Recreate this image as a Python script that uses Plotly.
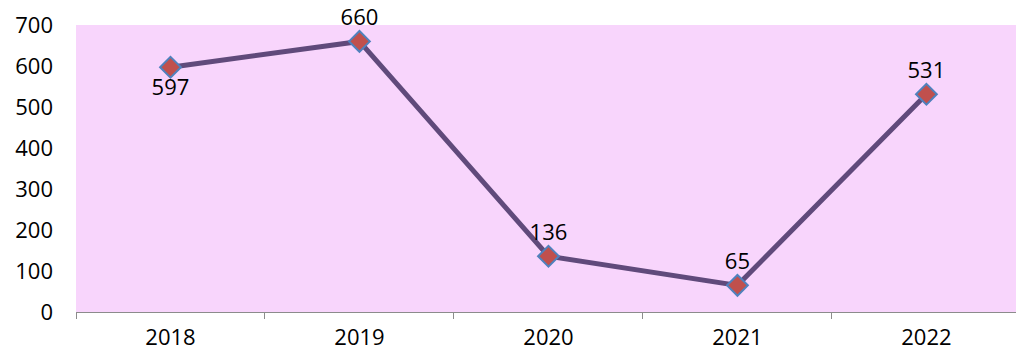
import plotly.graph_objects as go

years = ['2018', '2019', '2020', '2021', '2022']
values = [597, 660, 136, 65, 531]
label_pos = ['bottom center', 'top center', 'top center', 'top center', 'top center']

fig = go.Figure()
fig.add_trace(go.Scatter(
  x = years, y = values, mode = 'lines+markers+text',
  text = [str(v) for v in values], textposition = label_pos,
  textfont = dict(size = 22, color = '#000000'),
  line = dict(color = '#604A7B', width = 5),
  marker = dict(symbol = 'diamond', size = 16, color = '#C0504D', line = dict(color = '#4F81BD', width = 2)),
  cliponaxis = False, showlegend = False))

fig.update_layout(
  width = 1016, height = 360,
  margin = dict(l = 76, r = 0, t = 25, b = 48, autoexpand = False),
  paper_bgcolor = 'white', plot_bgcolor = '#F8D5FC',
  font = dict(family = 'Open Sans, Noto Sans, sans-serif', size = 22, color = '#000000'))
# last category boundary sits just past the right edge, as in the reference
fig.update_xaxes(type = 'category', range = [-0.5, 4.474], tickson = 'boundaries', ticks = 'outside',
                 ticklen = 6, tickcolor = '#8C8C8C', showline = True, linecolor = '#8C8C8C', linewidth = 1,
                 showgrid = False, ticklabelstandoff = 6, automargin = False)
fig.update_yaxes(range = [0, 700], dtick = 100, showgrid = False, zeroline = False, showline = False,
                 ticklabelstandoff = 22, automargin = False)

# drop the default 8px body margin so the figure sits flush with the window
fig.write_html('out.html', config = {'displayModeBar': False},
               post_script = "document.body.style.margin = '0';")
